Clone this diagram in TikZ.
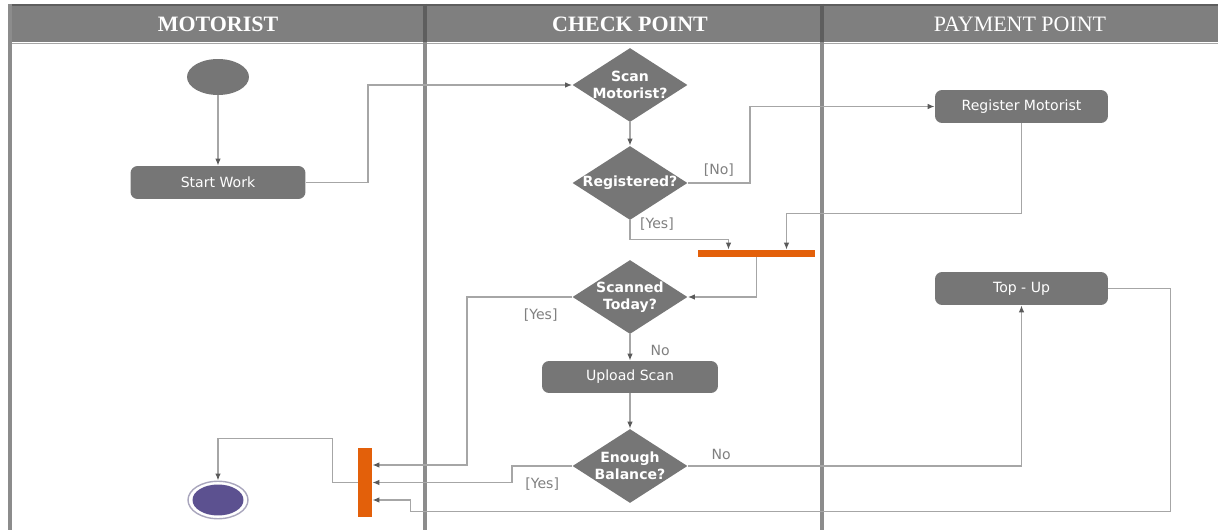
\documentclass[tikz,border=0pt]{standalone}
\usepackage{fontspec}
\setmainfont{DejaVu Sans}
\newfontfamily\headfont{Liberation Serif}
\usetikzlibrary{shapes.geometric, arrows.meta}
\definecolor{headgray}{HTML}{7F7F7F}
\definecolor{darkline}{HTML}{5E5E5E}
\definecolor{boxgray}{HTML}{767676}
\definecolor{linegray}{HTML}{A6A6A6}
\definecolor{tipgray}{HTML}{5A5A5A}
\definecolor{lanegray}{HTML}{8C8C8C}
\definecolor{barorange}{HTML}{E3600A}
\definecolor{endpurple}{HTML}{5C5190}
\definecolor{ringgray}{HTML}{A9A6BD}
\begin{document}
\begin{tikzpicture}
  [
    x = 0.02cm, y = -0.02cm,
    every node/.style = {font = \fontsize{8}{10}\selectfont},
    activity/.style = {rectangle, rounded corners = 4pt, fill = boxgray, text = white, minimum width = 3.5cm, minimum height = 0.66cm},
    decision/.style = {diamond, aspect = 1.55, fill = boxgray, text = white, font = \fontsize{8}{9.5}\selectfont\bfseries, align = center, inner sep = -3pt, minimum width = 2.3cm, minimum height = 1.48cm},
    syncbar/.style = {rectangle, fill = barorange, inner sep = 0pt},
    lbl/.style = {text = headgray},
    flow/.style = {draw = linegray, line width = 0.8pt, -{Latex[length = 4pt, width = 3.2pt, color = tipgray]}},
    lane/.style = {draw = lanegray, line width = 2pt},
    lanetitle/.style = {text = white, font = \headfont\fontsize{12.5}{14}\selectfont}
  ]
    \useasboundingbox (0,0) rectangle (1218,530);
    % swimlanes
    \fill [headgray] (9,4) rectangle (1218,42);
    \draw [darkline, line width = 1.5pt] (9,5) -- (1218,5);
    \draw [linegray, line width = 0.8pt] (9,43.5) -- (1218,43.5);
    \draw [lane] (10,4) -- (10,530);
    \draw [lane] (425,4) -- (425,530);
    \draw [lane] (822,4) -- (822,530);
    \draw [lane, darkline] (425,4) -- (425,42);
    \draw [lane, darkline] (822,4) -- (822,42);
    \node (t1) [lanetitle] at (218,24) {\bfseries MOTORIST};
    \node (t2) [lanetitle] at (630,24) {\bfseries CHECK POINT};
    \node (t3) [lanetitle] at (1020,24) {PAYMENT POINT};
    % nodes
    \node (start) [ellipse, fill = boxgray, minimum width = 1.24cm, minimum height = 0.72cm] at (218,77) {};
    \node (work) [activity] at (218,182.5) {Start Work};
    \node (scan) [decision] at (630,85) {Scan\\Motorist?};
    \node (reg) [decision] at (630,183) {Registered?};
    \node (regm) [activity, minimum width = 3.46cm] at (1021.5,106.5) {Register Motorist};
    \node (fork) [syncbar, minimum width = 2.34cm, minimum height = 0.14cm] at (756.5,253.5) {};
    \node (today) [decision] at (630,297) {Scanned\\Today?};
    \node (upl) [activity, minimum width = 3.52cm, minimum height = 0.64cm] at (630,377) {Upload Scan};
    \node (bal) [decision] at (630,466) {Enough\\Balance?};
    \node (topup) [activity, minimum width = 3.46cm] at (1021.5,288.5) {Top - Up};
    \node (join) [syncbar, minimum width = 0.28cm, minimum height = 1.38cm] at (365,482.5) {};
    \node (stop) [ellipse, draw = ringgray, line width = 0.8pt, fill = white, minimum width = 1.2cm, minimum height = 0.75cm,
      path picture = {\fill [endpurple] (path picture bounding box.center) ellipse (0.51cm and 0.31cm);}] at (218,500) {};
    % connectors
    \draw [flow] (start.south) -- (work.north);
    \draw [flow] (work.east) -- ++(62,0) |- (scan.west);
    \draw [flow] (scan.south) -- (reg.north);
    \draw [flow] (reg.east) -- node [lbl, above] {[No]} ++(62,0) |- (regm.west);
    \draw [flow] (reg.south) -- node [lbl, right = 2pt, pos = 0.2] {[Yes]} ++(0,19) -| ([xshift = -0.56cm]fork.north);
    \draw [flow] (regm.south) -- ++(0,90) -| ([xshift = 0.6cm]fork.north);
    \draw [flow] (fork.south) |- (today.east);
    \draw [flow] (today.west) -- node [lbl, below = 3pt, pos = 0.3] {[Yes]} ++(-105,0) |- ([yshift = 0.35cm]join.east);
    \draw [flow] (today.south) -- node [lbl, right = 8pt, pos = 0.6] {No} (upl.north);
    \draw [flow] (upl.south) -- (bal.north);
    \draw [flow] (bal.west) -- node [lbl, below = 3pt, pos = 0.5] {[Yes]} ++(-60,0) |- (join.east);
    \draw [flow] (bal.east) -| node [lbl, above, pos = 0.05] {No} (topup.south);
    \draw [flow] (topup.east) -- ++(62,0) -- ++(0,223) -| ([xshift = 0.76cm, yshift = -0.35cm]join.east) -- ([yshift = -0.35cm]join.east);
    \draw [flow] (join.west) -- ++(-25,0) -- ++(0,-44) -| (stop.north);
  \end{tikzpicture}
\end{document}
